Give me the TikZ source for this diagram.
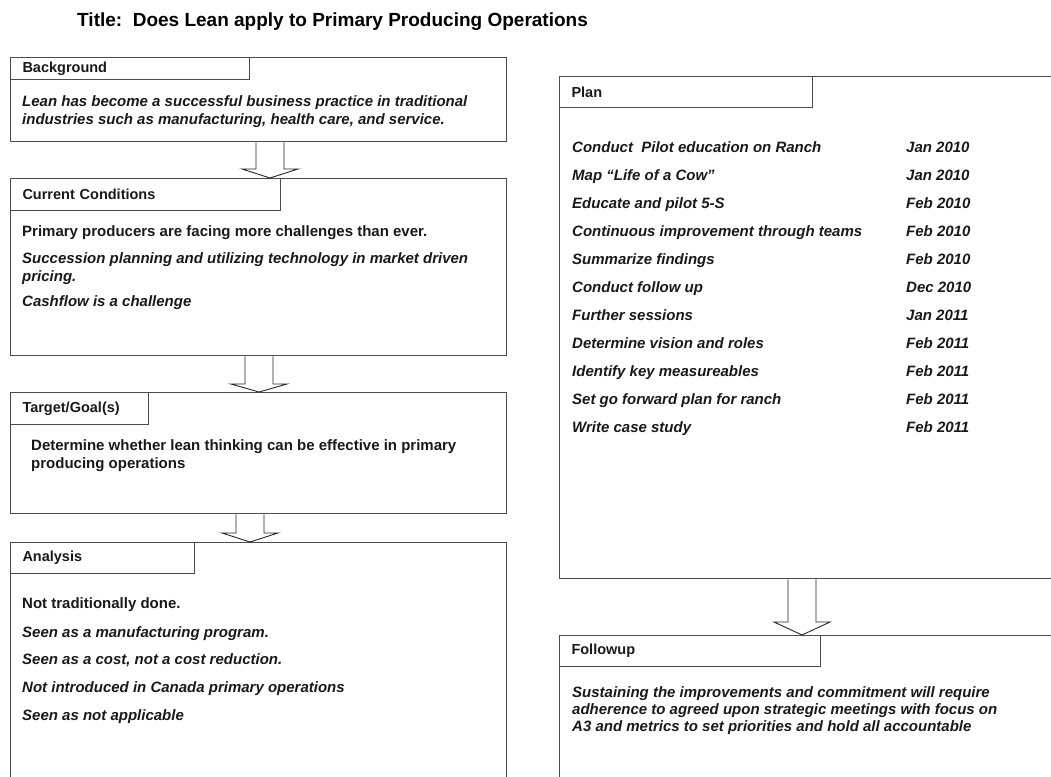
\documentclass[tikz,border=0pt]{standalone}
\usepackage{fontspec}
\setmainfont{Liberation Sans}
\usetikzlibrary{calc}

% hollow block arrow between two panels: [head] {from} {to} {shaft x}
\newcommand{\flowarrow}[4][9]{%
  \coordinate (fa) at (#4,0);
  \draw[blockarrow] ($(#2.south -| fa)+(-14,0)$) -- ($(#3.north -| fa)+(-14,-#1)$)
    -- ($(#3.north -| fa)+(-28,-#1)$) -- (#3.north -| fa)
    -- ($(#3.north -| fa)+(28,-#1)$) -- ($(#3.north -| fa)+(14,-#1)$)
    -- ($(#2.south -| fa)+(14,0)$);
}

\begin{document}
\begin{tikzpicture}[
  x=1pt, y=-1pt,
  % big outlined panels
  panel/.style={rectangle, draw=black!70, line width=1.4pt, anchor=north west,
                inner sep=0pt},
  % heading tab in the top left corner of a panel
  tab/.style 2 args={rectangle, draw=black!70, line width=1pt, anchor=north west,
                inner xsep=12pt, inner ysep=0pt, text width=#1, minimum height=#2,
                align=left, font=\fontsize{14.5}{17}\selectfont\bfseries,
                text=black!90},
  txt/.style={font=\fontsize{15}{18}\selectfont\bfseries, text=black!90,
              inner sep=0pt, align=left},
  itxt/.style={txt, font=\fontsize{15}{18}\selectfont\bfseries\itshape},
  blockarrow/.style={draw=black!85, line width=0.9pt, line join=miter}
]
\clip (0,0) rectangle (1051,776);

%% ── Title ───────────────────────────────────────────────
\node[font=\fontsize{19}{22}\selectfont\bfseries, anchor=base west, inner sep=0pt]
      (title) at (77,27) {Title:\ \ Does Lean apply to Primary Producing Operations};

%% ── Left column panels ──────────────────────────────────
\node[panel, minimum width=496pt, minimum height=84pt]  (bg)  at (10,57)  {};
\node[panel, minimum width=496pt, minimum height=177pt] (cur) at (10,178) {};
\node[panel, minimum width=496pt, minimum height=121pt] (tgt) at (10,392) {};
\node[panel, minimum width=496pt, minimum height=250pt] (ana) at (10,542) {};

\node[tab={215pt}{22pt}] (bgtab)  at (bg.north west)  {Background};
\node[tab={246pt}{32pt}] (curtab) at (cur.north west) {Current Conditions};
\node[tab={114pt}{32pt}] (tgttab) at (tgt.north west) {Target/Goal(s)};
\node[tab={160pt}{31pt}] (anatab) at (ana.north west) {Analysis};

%% ── Right column panels ─────────────────────────────────
\node[panel, minimum width=510pt, minimum height=502pt] (plan) at (559,76)  {};
\node[panel, minimum width=510pt, minimum height=160pt] (fol)  at (559,635) {};

\node[tab={229pt}{31pt}] (plantab) at (plan.north west) {Plan};
\node[tab={237pt}{31pt}] (foltab)  at (fol.north west)  {Followup};

%% ── Block arrows ────────────────────────────────────────
\flowarrow{bg}{cur}{270}
\flowarrow[8]{cur}{tgt}{259}
\flowarrow{tgt}{ana}{250}
\flowarrow[13]{plan}{fol}{802}

%% ── Panel texts ─────────────────────────────────────────
\node[itxt, anchor=north west] (bgtext) at (22,95)
    {Lean has become a successful business practice in traditional\\
     industries such as manufacturing, health care, and service.};

\node[txt, anchor=base west]  (cur1) at (22,236)
    {Primary producers are facing more challenges than ever.};
\node[itxt, anchor=north west] (cur2) at (22,252)
    {Succession planning and utilizing technology in market driven\\pricing.};
\node[itxt, anchor=base west] (cur3) at (22,306) {Cashflow is a challenge};

\node[txt, anchor=north west] (tgttext) at (31,439)
    {Determine whether lean thinking can be effective in primary\\
     producing operations};

\node[txt, anchor=base west]  (ana1) at (22,608) {Not traditionally done.};
\node[itxt, anchor=base west] (ana2) at (22,637) {Seen as a manufacturing program.};
\node[itxt, anchor=base west] (ana3) at (22,664) {Seen as a cost, not a cost reduction.};
\node[itxt, anchor=base west] (ana4) at (22,692) {Not introduced in Canada primary operations};
\node[itxt, anchor=base west] (ana5) at (22,720) {Seen as not applicable};

% plan rows: task / month
\foreach \task/\when [count=\i from 0] in {
    Conduct\ \ Pilot education on Ranch/Jan 2010,
    Map “Life of a Cow”/Jan 2010,
    Educate and pilot 5-S/Feb 2010,
    Continuous improvement through teams/Feb 2010,
    Summarize findings/Feb 2010,
    Conduct follow up/Dec 2010,
    Further sessions/Jan 2011,
    Determine vision and roles/Feb 2011,
    Identify key measureables/Feb 2011,
    Set go forward plan for ranch/Feb 2011,
    Write case study/Feb 2011} {
  \node[itxt, anchor=base west] (task\i) at (572,{152+28*\i}) {\task};
  \node[itxt, anchor=base west] (when\i) at (906,{152+28*\i}) {\when};
}

\node[itxt, anchor=north west, font=\fontsize{15}{17}\selectfont\bfseries\itshape]
      (foltext) at (572,686)
    {Sustaining the improvements and commitment will require\\
     adherence to agreed upon strategic meetings with focus on\\
     A3 and metrics to set priorities and hold all accountable};

\end{tikzpicture}
\end{document}
